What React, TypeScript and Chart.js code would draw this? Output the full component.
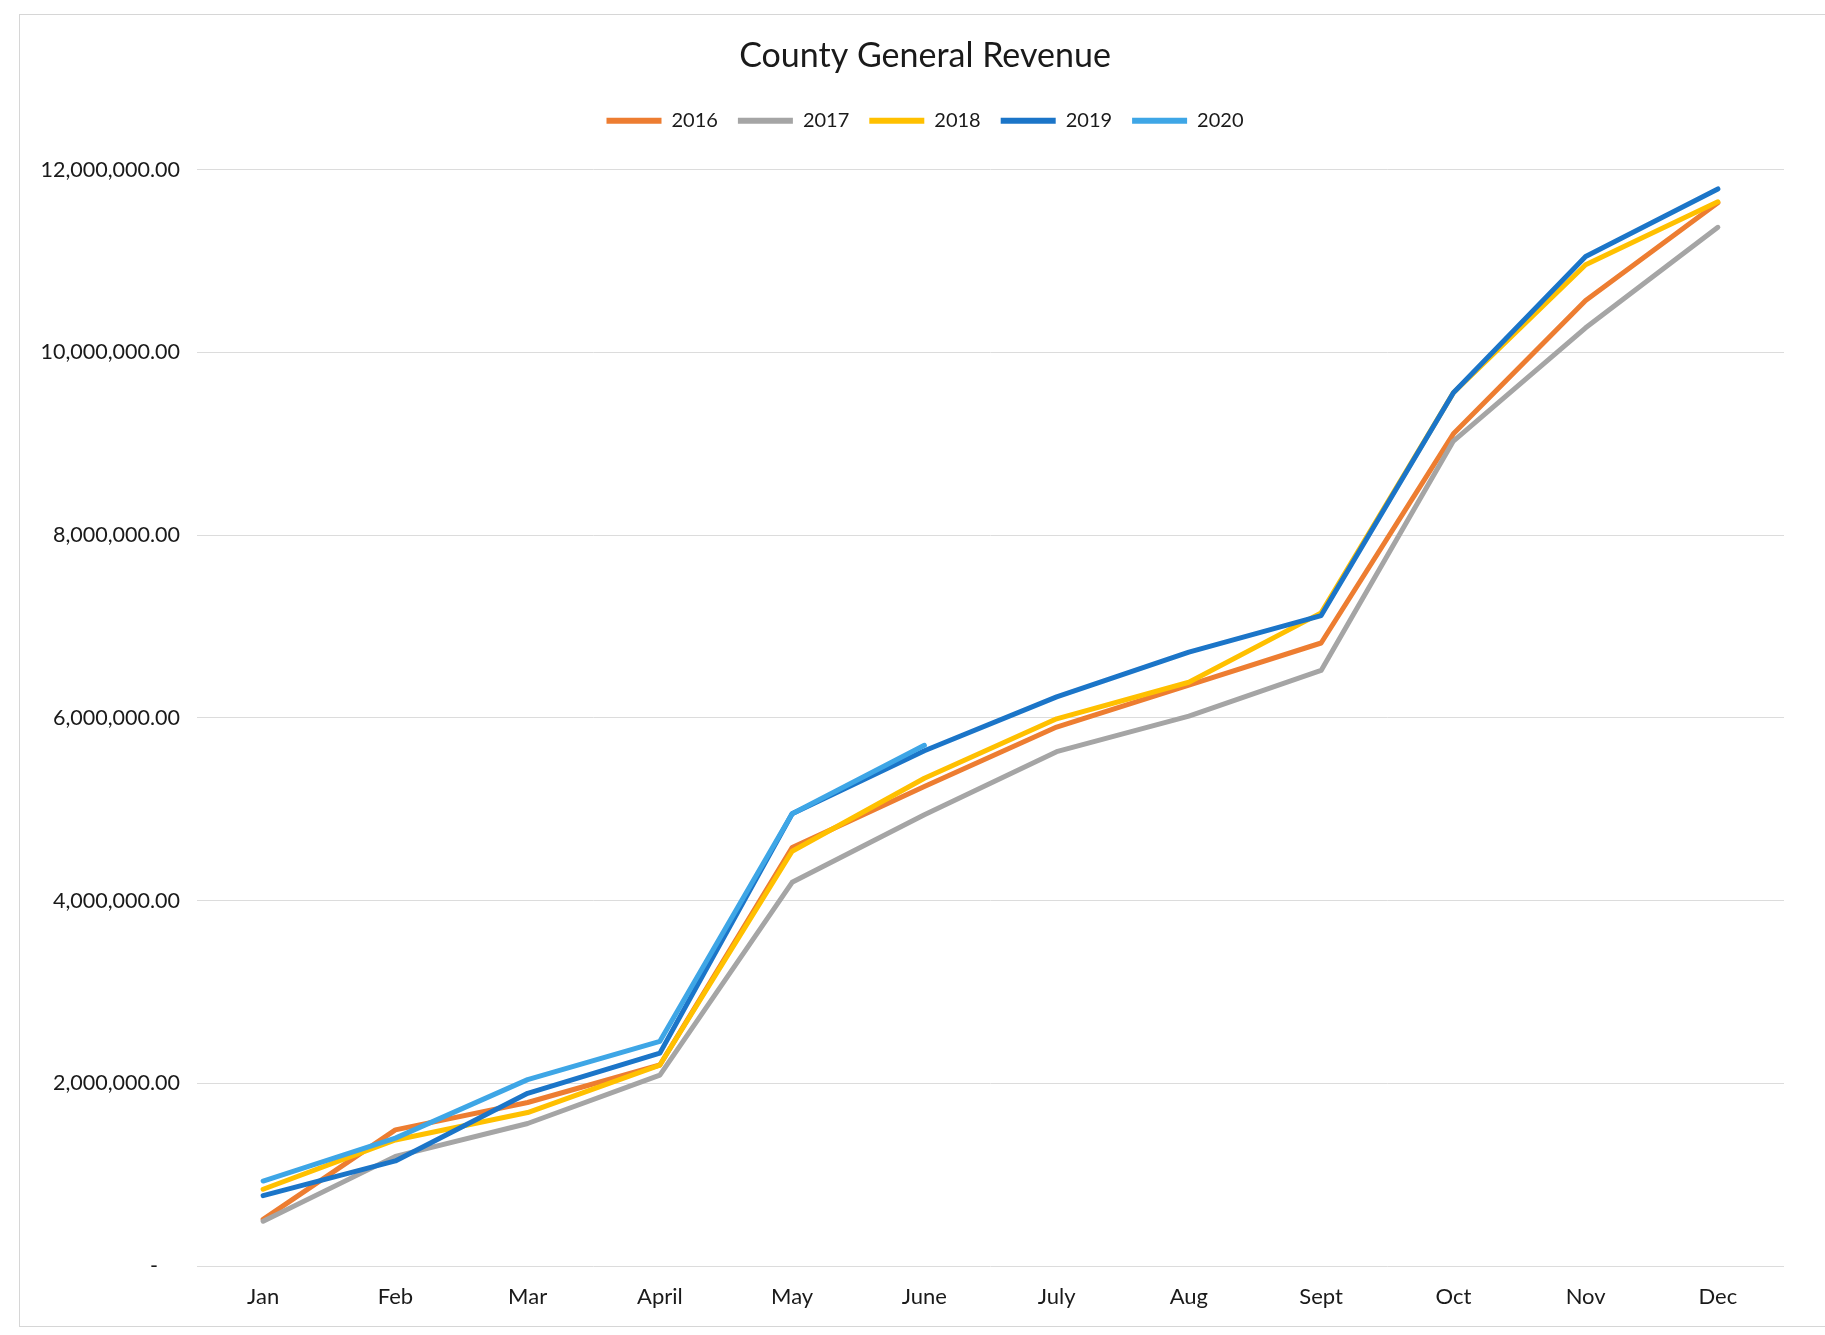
import React, { useEffect, useRef } from "react";
import { Chart, registerables } from "chart.js";

Chart.register(...registerables);

const months = ["Jan", "Feb", "Mar", "April", "May", "June", "July", "Aug", "Sept", "Oct", "Nov", "Dec"];
const seriesNames = ["2016", "2017", "2018", "2019", "2020"];
const seriesColors = ["#ED7D31", "#A5A5A5", "#FFC000", "#1B75C8", "#3EA6E6"];

const rev2016 = [510000, 1490000, 1790000, 2200000, 4580000, 5250000, 5900000, 6360000, 6820000, 9110000, 10570000, 11640000];
const rev2017 = [490000, 1200000, 1560000, 2090000, 4200000, 4940000, 5630000, 6020000, 6520000, 9030000, 10270000, 11370000];
const rev2018 = [840000, 1380000, 1680000, 2200000, 4540000, 5340000, 5990000, 6390000, 7150000, 9560000, 10960000, 11650000];
const rev2019 = [770000, 1150000, 1890000, 2330000, 4950000, 5640000, 6230000, 6720000, 7120000, 9560000, 11050000, 11790000];
const rev2020 = [930000, 1400000, 2040000, 2460000, 4950000, 5700000, null, null, null, null, null, null];

const yMin = 0;
const yMax = 12000000;
const yStep = 2000000;

const FONT = "Lato, 'Open Sans', sans-serif";

const layoutTweaks = {
  id: "layoutTweaks",
  beforeInit(chart: any) {
    const lg = chart.legend;
    if (!lg) return;
    const orig = lg.fit;
    lg.fit = function () {
      orig.call(this);
      this.height += 29;
    };
  },
  beforeDraw(chart: any) {
    if (chart.titleBlock) chart.titleBlock.left += 66;
    if (chart.legend) chart.legend.left += 66;
  },
};

export default function App() {
  const ref = useRef<HTMLCanvasElement | null>(null);

  useEffect(() => {
    if (!ref.current) return;
    const all = [rev2016, rev2017, rev2018, rev2019, rev2020];
    const chart = new Chart(ref.current, {
      type: "line",
      data: {
        labels: months,
        datasets: all.map((d, i) => ({
          label: seriesNames[i],
          data: d,
          borderColor: seriesColors[i],
          backgroundColor: seriesColors[i],
          borderWidth: 5,
          pointRadius: 0,
          tension: 0,
          borderCapStyle: "round" as const,
          borderJoinStyle: "round" as const,
          spanGaps: false,
          order: all.length - i,
        })),
      },
      plugins: [layoutTweaks],
      options: {
        animation: false,
        responsive: false,
        maintainAspectRatio: false,
        layout: { padding: { top: 0, left: 0, right: 41, bottom: 9 } },
        plugins: {
          tooltip: { enabled: false },
          title: {
            display: true,
            text: "County General Revenue",
            color: "#1a1a1a",
            font: { family: FONT, size: 34, weight: "normal" },
            padding: { top: 36, bottom: 14 },
          },
          legend: {
            display: true,
            position: "top",
            labels: {
              color: "#1a1a1a",
              font: { family: FONT, size: 20 },
              boxWidth: 55,
              boxHeight: 6,
              padding: 20,
              sort: (a: any, b: any) => a.datasetIndex - b.datasetIndex,
              generateLabels: (c: any) =>
                c.data.datasets.map((ds: any, i: number) => ({
                  text: ds.label,
                  fillStyle: ds.borderColor,
                  strokeStyle: ds.borderColor,
                  lineWidth: 0,
                  hidden: false,
                  datasetIndex: i,
                  fontColor: "#1a1a1a",
                })),
            },
          },
        },
        scales: {
          x: {
            offset: true,
            grid: { display: false, drawTicks: false },
            border: { display: false },
            ticks: {
              color: "#1a1a1a",
              font: { family: FONT, size: 22 },
              padding: 18,
              maxRotation: 0,
              autoSkip: false,
            },
            afterFit: (s: any) => {
              s.height = 60;
            },
          },
          y: {
            min: yMin,
            max: yMax,
            grid: { color: "#dcdcdc", lineWidth: 1, drawTicks: false },
            border: { display: false },
            ticks: {
              stepSize: yStep,
              color: "#1a1a1a",
              font: { family: FONT, size: 21.5 },
              padding: 17,
              callback: (v: any) =>
                Number(v) === 0
                  ? "-    "
                  : Number(v).toLocaleString("en-US", { minimumFractionDigits: 2, maximumFractionDigits: 2 }),
            },
            afterFit: (s: any) => {
              s.width = 197;
            },
          },
        },
      },
    });
    return () => chart.destroy();
  }, []);

  return (
    <div style={{ position: "fixed", left: 0, top: 0, width: 1825, height: 1335, background: "#fff", overflow: "hidden" }}>
      <div
        style={{
          position: "absolute",
          left: 19,
          top: 14,
          width: 1830,
          height: 1313,
          border: "1px solid #d6d6d6",
          boxSizing: "border-box",
        }}
      />
      <canvas ref={ref} width={1825} height={1335} style={{ position: "absolute", left: 0, top: 0, width: 1825, height: 1335 }} />
    </div>
  );
}
